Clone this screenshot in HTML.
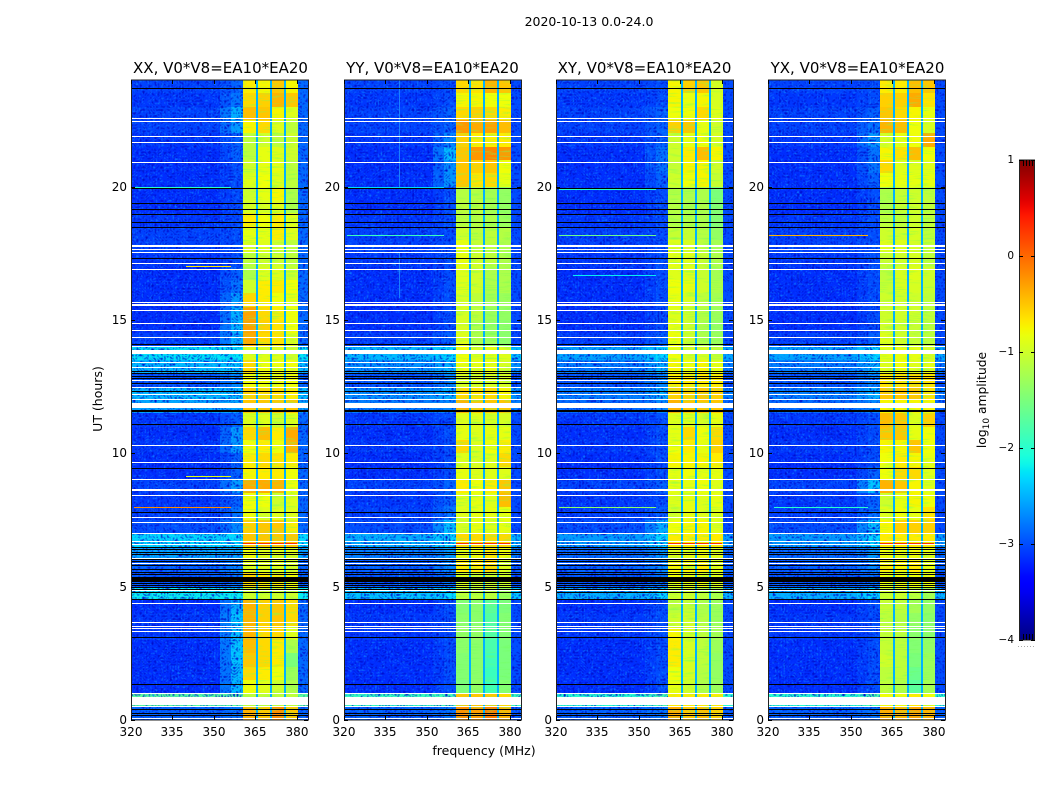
<!DOCTYPE html>
<html lang="en">
<head>
<meta charset="utf-8">
<title>2020-10-13 amplitude waterfall</title>
<style>
html,body{margin:0;padding:0;background:#fff;}
svg{display:block;}
text{font-family:"DejaVu Sans","Liberation Sans",sans-serif;fill:#000;}
</style>
</head>
<body>
<svg id="chart" xmlns="http://www.w3.org/2000/svg" width="1050" height="800" viewBox="0 0 1050 800">
  <defs>
    <linearGradient id="jetGradient" x1="0" y1="1" x2="0" y2="0"></linearGradient>
    <filter id="speckleLight" x="0" y="0" width="1" height="1" color-interpolation-filters="sRGB">
      <feTurbulence type="turbulence" baseFrequency="0.36" numOctaves="1" seed="4"/>
      <feColorMatrix type="matrix" values="0 0 0 0 0.05  0 0 0 0 0.5  0 0 0 0 1  1.8 0 0 0 -0.3"/>
    </filter>
    <filter id="speckleDark" x="0" y="0" width="1" height="1" color-interpolation-filters="sRGB">
      <feTurbulence type="turbulence" baseFrequency="0.33" numOctaves="1" seed="11"/>
      <feColorMatrix type="matrix" values="0 0 0 0 0  0 0 0 0 0.05  0 0 0 0 0.8  2 0 0 0 -0.25"/>
    </filter>
    <filter id="bandTexture" x="0" y="0" width="1" height="1" color-interpolation-filters="sRGB">
      <feTurbulence type="turbulence" baseFrequency="0.06 0.45" numOctaves="1" seed="7"/>
      <feColorMatrix type="matrix" values="0 0 0 0 0.45  0 0 0 0 1  0 0 0 0 0.35  1.2 0 0 0 -0.2"/>
    </filter>
  </defs>
  <text x="589" y="26" font-size="12.5" text-anchor="middle">2020-10-13 0.0-24.0</text>
  <text x="484" y="755" font-size="12.5" text-anchor="middle">frequency (MHz)</text>
  <text x="0" y="0" font-size="12.5" text-anchor="middle" transform="translate(102,399) rotate(-90)">UT (hours)</text>
  <text x="0" y="0" font-size="12.3" text-anchor="middle" transform="translate(986,400) rotate(-90)">log<tspan font-size="9" dy="3">10</tspan><tspan dy="-3"> amplitude</tspan></text>
  <g id="panels"></g>
  <g id="colorbar"></g>
</svg>
<script>
// Tick labels
const xTicks = [320, 335, 350, 365, 380];
const yTicks = [0, 5, 10, 15, 20];
const colorTicks = [1, 0, -1, -2, -3, -4];

// Frequency layout in MHz
const bandStarts = [360.5, 365.5, 370.6, 375.6];
const bandEnds = [365.1, 370.2, 375.2, 380];
const gapFreqs = [365.1, 370.2, 375.2];

// Background log10 amplitude per half-hour row, 0h upward (48 rows)
const backgroundLevels = [
  -2.9,-2.0,-3.15,-3.15,-3.15,-3.15,-3.1,-3.1,-3.15,-2.5,
  -2.95,-2.9,-2.85,-2.6,-3.0,-3.05,-3.1,-3.05,-3.15,-3.15,
  -3.1,-3.15,-3.1,-2.85,-2.75,-2.95,-2.75,-2.55,-3.05,-3.15,
  -3.15,-3.15,-3.15,-3.15,-3.1,-3.05,-3.05,-3.1,-3.15,-3.15,
  -3.15,-3.15,-3.15,-3.1,-3.05,-3.05,-3.1,-3.05
];

// Extra brightness of the disturbed rows in each panel
const panelGlow = [0.3, 0.1, 0, 0];

// 356-360.5 MHz shoulder per half-hour row
const xxShoulder = [-2.8,-1.8,-2.45,-2.45,-2.4,-2.4,-2.4,-2.4,-2.5,-2.3,-2.8,-2.7,-2.6,-2.3,-2.7,-2.8,-2.9,-2.6,-2.9,-2.9,-2.6,-2.6,-2.9,-2.6,-2.5,-2.7,-2.4,-2.3,-2.5,-2.45,-2.5,-2.6,-2.8,-2.9,-3,-3,-3,-3,-3,-3,-3,-3,-2.9,-2.9,-2.6,-2.5,-2.8,-2.9];
const yyShoulder = [-2.8,-1.8,-3,-3,-3,-3,-3,-3,-3,-2.3,-2.8,-2.7,-2.6,-2.3,-2.4,-2.8,-2.9,-2.9,-3,-3,-3,-3,-3,-2.7,-2.5,-2.7,-2.5,-2.3,-2.9,-3,-3,-3,-3,-3,-3,-3,-3,-3,-3,-3,-2.65,-2.65,-2.45,-2.7,-2.9,-2.9,-3,-3];
const xyShoulder = [-2.8,-1.8,-3,-3,-3,-3,-3,-3,-3,-2.3,-2.8,-2.7,-2.6,-2.3,-2.5,-2.9,-3,-2.9,-3,-3,-3,-3,-3,-2.7,-2.5,-2.7,-2.5,-2.3,-2.9,-3,-3,-3,-3,-3,-3,-3,-3,-3,-3,-3,-2.9,-2.8,-2.8,-2.9,-2.9,-2.9,-3,-3];
const yxShoulder = [-2.8,-1.8,-3,-3,-3,-3,-3,-3,-3,-2.3,-2.8,-2.7,-2.6,-2.3,-2.4,-2.8,-2.9,-2.4,-2.9,-3,-3,-3,-3,-2.7,-2.5,-2.7,-2.5,-2.3,-2.9,-3,-3,-3,-3,-3,-3,-3,-3,-3,-3,-3,-2.9,-2.8,-2.8,-2.6,-2.8,-2.9,-3,-3];

// Sub-band log10 amplitude per half-hour row, 0h upward
const xxBands = [
[-.4,-.5,-.2,-.5],[-1.1,-1.1,-1.1,-1.1],[-.8,-.9,-1,-1.2],[-.6,-.7,-.8,-1.3],[-.5,-.6,-.7,-1.5],[-.45,-.6,-.7,-1.2],[-.4,-.6,-.6,-.9],[-.4,-.55,-.5,-.6],
[-.4,-.55,-.5,-.6],[-1,-1,-1,-1],[-.6,-.7,-.7,-.8],[-.9,-.9,-.9,-.95],[-.8,-.9,-.9,-.9],[-.5,-.5,-.5,-.5],[-.55,-.5,-.5,-.7],[-.8,-.9,-.9,-.9],
[-.8,-.8,-1,-.9],[-.35,-.35,-.4,-.8],[-.75,-.7,-.7,-.8],[-.7,-.6,-.65,-.7],[-.8,-.7,-.8,-.4],[-.6,-.45,-.7,-.35],[-.9,-.9,-1,-.9],[-.5,-.5,-.5,-.5],
[-.55,-.6,-.6,-.7],[-.8,-.8,-.8,-.8],[-.6,-.8,-.8,-.8],[-.9,-.9,-.9,-1],[-.35,-.6,-.65,-.9],[-.3,-.55,-.65,-.8],[-.3,-.6,-.7,-.8],[-.6,-.7,-.8,-.85],
[-1,-.7,-.7,-.8],[-1.2,-.9,-.9,-1],[-1.1,-1,-1,-1.1],[-.9,-.9,-1,-1.1],[-.85,-.85,-.7,-.9],[-.7,-.8,-.7,-.9],[-.95,-.95,-.9,-1.2],[-1,-.85,-.75,-1.2],
[-.9,-.8,-.9,-1.1],[-1,-.85,-.85,-1.1],[-1.1,-.85,-.9,-1],[-1.1,-1,-1.1,-1],[-.75,-.6,-.9,-1.1],[-.45,-.5,-.75,-.9],[-.6,-.55,-.4,-.5],[-.7,-.75,-.5,-.75]
];
const yyBands = [
[-.2,-.3,-.1,-.4],[-.5,-.5,-.5,-.6],[-1.5,-1.35,-1.9,-1.45],[-1.45,-1.4,-1.9,-1.5],[-1.45,-1.4,-1.85,-1.5],[-1.4,-1.4,-1.8,-1.5],[-1.35,-1.35,-1.75,-1.45],[-1.4,-1.4,-1.75,-1.45],
[-1.45,-1.4,-1.7,-1.5],[-1.1,-1.1,-1.1,-1.3],[-.9,-1,-1,-1],[-.7,-.7,-.6,-.9],[-.8,-.8,-.7,-.8],[-.6,-.6,-.6,-.6],[-.95,-.85,-.9,-.85],[-.9,-.85,-.85,-.8],
[-.9,-.85,-.9,-.45],[-.7,-.8,-.7,-.5],[-.85,-.9,-.9,-.9],[-.9,-.95,-.9,-.6],[-.6,-.9,-.8,-.7],[-.85,-.9,-.85,-.85],[-.9,-.9,-.95,-.95],[-.4,-.5,-.5,-.5],
[-.6,-.65,-.6,-.75],[-.95,-.95,-.95,-.95],[-.8,-.85,-.85,-.95],[-.8,-.9,-.85,-.9],[-.9,-1.2,-1.3,-1.4],[-.95,-1.2,-1.35,-1.4],[-.95,-1.1,-1.3,-1.35],[-.95,-1.1,-1.25,-1.3],
[-.9,-1,-1.2,-1.2],[-.9,-1,-1.2,-1.2],[-.85,-1,-1.1,-1.2],[-.85,-1.05,-1.1,-1.2],[-1,-1.1,-1.1,-1.15],[-1.1,-1.15,-1.2,-1.3],[-1.1,-1.1,-1.25,-1.35],[-1.15,-1.15,-1.25,-1.35],
[-.5,-.65,-.6,-.85],[-.5,-.55,-.5,-.8],[-.5,-.25,-.15,-.25],[-.55,-.7,-.7,-.7],[-.25,-.35,-.3,-.45],[-.6,-.55,-.6,-.7],[-.75,-.75,-.8,-.8],[-.6,-.65,-.4,-.5]
];
const xyBands = [
[-.35,-.5,-.45,-.55],[-.7,-.7,-.7,-.7],[-.85,-1,-1.2,-1.3],[-.8,-.95,-1.15,-1.35],[-.7,-.95,-1.1,-1.35],[-.7,-.95,-1.1,-1.3],[-.75,-.95,-1.1,-1.25],[-1,-1,-1.15,-1.3],
[-1.1,-1.05,-1.2,-1.3],[-1,-1,-1.1,-1.2],[-.8,-.85,-.8,-.9],[-.75,-.75,-.7,-.85],[-.9,-.85,-.8,-.9],[-.7,-.7,-.7,-.7],[-.8,-.75,-.75,-.9],[-.95,-.85,-.9,-.9],
[-.9,-.85,-.9,-.85],[-.85,-.85,-.8,-.9],[-.85,-.8,-.85,-.85],[-.75,-.75,-.75,-.7],[-.8,-.7,-.85,-.55],[-.85,-.6,-.8,-.6],[-.9,-.9,-.95,-.85],[-.4,-.5,-.5,-.5],
[-.55,-.55,-.5,-.55],[-.7,-.7,-.7,-.7],[-.75,-.8,-.75,-.85],[-.8,-.95,-.95,-1.05],[-.8,-1,-1.2,-1.3],[-.85,-1,-1.2,-1.35],[-.9,-1,-1.15,-1.3],[-.85,-.95,-1.1,-1.25],
[-.8,-.85,-1,-1.2],[-.9,-.9,-1.05,-1.25],[-.85,-.9,-1.05,-1.2],[-.9,-.95,-1.1,-1.25],[-1.05,-1.05,-1.15,-1.35],[-1.15,-1.15,-1.2,-1.45],[-1.15,-1.2,-1.2,-1.45],[-1.15,-1.2,-1.2,-1.5],
[-1,-.8,-.75,-1.05],[-1.05,-.75,-.75,-1],[-1,-.7,-.45,-.75],[-1,-.85,-.8,-.95],[-.55,-.5,-.85,-1],[-.8,-.8,-.6,-.9],[-.75,-.85,-.75,-.95],[-.75,-.55,-.5,-.95]
];
const yxBands = [
[-.35,-.4,-.3,-.4],[-.8,-.8,-.7,-.8],[-1.1,-1.2,-1.7,-1.25],[-1.1,-1.1,-1.6,-1.3],[-1,-1.1,-1.5,-1.3],[-1.05,-1.1,-1.45,-1.35],[-1.05,-1.1,-1.4,-1.4],[-1.1,-1.15,-1.35,-1.4],
[-1.05,-1.1,-1.25,-1.35],[-1,-1,-1.1,-1.25],[-.8,-.8,-.8,-.8],[-.7,-.75,-.7,-.85],[-.8,-.8,-.8,-.85],[-.7,-.7,-.7,-.7],[-.75,-.55,-.55,-.55],[-.9,-.8,-.85,-.65],
[-1,-.85,-.75,-.8],[-.4,-.5,-.75,-.9],[-.8,-.6,-.6,-.9],[-.8,-.7,-.75,-.85],[-.75,-.75,-.5,-.8],[-.5,-.5,-.85,-.8],[-.45,-.5,-.9,-.55],[-.75,-.75,-.75,-.75],
[-.5,-.5,-.5,-.65],[-.65,-.65,-.6,-.65],[-.9,-.8,-.9,-.85],[-.85,-.85,-.85,-.95],[-.9,-1,-1.05,-1.1],[-1,-1,-1.05,-1.1],[-1,-1,-1,-1.1],[-1,-1,-1,-1.1],
[-1.05,-.95,-.95,-1.05],[-1.1,-.95,-.9,-1],[-1.05,-1,-.95,-1.1],[-.9,-.9,-.95,-1.05],[-1,-1,-.95,-1.1],[-1.1,-1.1,-1,-1.1],[-1.2,-1.05,-1,-1.1],[-1.2,-1.05,-1,-1.1],
[-.8,-.85,-.85,-.85],[-.6,-.9,-.9,-.9],[-.75,-.65,-.45,-.8],[-.95,-.85,-.8,-.35],[-.4,-.45,-.8,-.95],[-.5,-.6,-.75,-.85],[-.55,-.55,-.35,-.65],[-.7,-.7,-.45,-.5]
];

// Outer-edge level above 380 MHz for each panel
const edgeLevels = [-2.85, -3.0, -3.0, -3.0];
const gapLevel = -2.5;
const strongRowHour = 6.65;
const strongRowLevel = 0.3;

// Narrow-band interference rows per panel: hour, start MHz, level
const xxRfiHours = [7.98, 17.03, 19.99, 9.15];
const xxRfiStarts = [321, 340, 321, 340];
const xxRfiLevels = [-0.2, -0.7, -2.0, -0.9];
const yyRfiHours = [18.17, 19.98];
const yyRfiStarts = [321, 321];
const yyRfiLevels = [-1.9, -2.3];
const xyRfiHours = [7.98, 18.17, 19.9, 16.7];
const xyRfiStarts = [321, 321, 321, 326];
const xyRfiLevels = [-1.4, -1.6, -2.0, -2.2];
const yxRfiHours = [18.17, 7.98];
const yxRfiStarts = [320, 322];
const yxRfiLevels = [-0.4, -2.0];
const rfiStopFreq = 356;

// Interference channels in YY (MHz, hour from, hour to)
const yyChannelFreqs = [340, 340, 340];
const yyChannelFrom = [20, 15.8, 5];
const yyChannelTo = [24, 17.5, 5.5];

// Flagged integrations in UT hours
const whiteHours = [.06,.51,1.0,3.35,3.44,3.54,3.66,4.38,4.88,5.88,6.09,6.59,6.72,7.0,7.41,7.61,8.43,8.64,9.05,9.66,10.3,12.04,12.22,12.5,12.75,13.24,13.44,14.04,14.37,14.61,14.87,15.36,15.56,15.68,16.9,17.12,17.54,17.66,17.78,20.92,21.67,21.89,22.47,22.56];
const whiteBandFrom = [.56, 11.7, 13.72, 8.6, 15.52, 17.75];
const whiteBandTo = [.86, 11.9, 13.86, 8.68, 15.6, 17.81];
const blackHours = [.18,.27,.42,1.34,3.1,4.53,4.8,4.93,5,5.06,5.13,5.47,5.55,5.66,5.81,5.96,6.04,6.22,6.3,6.41,6.5,7.79,9.44,11.09,12.35,12.65,12.83,12.9,13.01,13.09,14.1,17.34,18.49,18.66,18.96,19.15,19.37,19.96,23.69];
const blackBandFrom = [5.19, 11.54];
const blackBandTo = [5.37, 11.62];

const panelLefts = [131, 344, 556, 768];
const panelTitleOffsets = [89.5, 88.5, 88.5, 89.5];
const panelTitles = ['XX, V0*V8=EA10*EA20', 'YY, V0*V8=EA10*EA20', 'XY, V0*V8=EA10*EA20', 'YX, V0*V8=EA10*EA20'];
const panelBands = [xxBands, yyBands, xyBands, yxBands];
const panelShoulders = [xxShoulder, yyShoulder, xyShoulder, yxShoulder];
const panelRfiHours = [xxRfiHours, yyRfiHours, xyRfiHours, yxRfiHours];
const panelRfiStarts = [xxRfiStarts, yyRfiStarts, xyRfiStarts, yxRfiStarts];
const panelRfiLevels = [xxRfiLevels, yyRfiLevels, xyRfiLevels, yxRfiLevels];
const panelNames = ['xx', 'yy', 'xy', 'yx'];

const NS = 'http://www.w3.org/2000/svg';
const plotTop = 80, plotBottom = 720, plotWidth = 177;
const freqMin = 320, freqMax = 384, hourMax = 24;
const rowHours = 0.5;

function yScale(h) { return plotBottom - (h / hourMax) * (plotBottom - plotTop); }
function xScale(left, f) { return left + (f - freqMin) / (freqMax - freqMin) * plotWidth; }
function clamp01(v) { return Math.max(0, Math.min(1, v)); }
function jet(t) {
  const r = t < .35 ? 0 : t < .66 ? (t - .35) / .31 : t < .89 ? 1 : 1 - (t - .89) / .11 * .5;
  const g = t < .125 ? 0 : t < .375 ? (t - .125) / .25 : t < .64 ? 1 : t < .91 ? 1 - (t - .64) / .27 : 0;
  const b = t < .11 ? .5 + t / .11 * .5 : t < .34 ? 1 : t < .65 ? 1 - (t - .34) / .31 : 0;
  return 'rgb(' + Math.round(clamp01(r) * 255) + ',' + Math.round(clamp01(g) * 255) + ',' + Math.round(clamp01(b) * 255) + ')';
}
function colorOf(level) { return jet(clamp01((level + 4) / 5)); }
function rectEl(parent, x, y, w, h, fill) {
  const el = document.createElementNS(NS, 'rect');
  el.setAttribute('x', x);
  el.setAttribute('y', y);
  el.setAttribute('width', w);
  el.setAttribute('height', h);
  el.setAttribute('fill', fill);
  el.setAttribute('shape-rendering', 'crispEdges');
  parent.appendChild(el);
  return el;
}
function textEl(parent, x, y, size, anchor, str) {
  const el = document.createElementNS(NS, 'text');
  el.setAttribute('x', x);
  el.setAttribute('y', y);
  el.setAttribute('font-size', size);
  el.setAttribute('text-anchor', anchor);
  el.textContent = str;
  parent.appendChild(el);
  return el;
}
function cell(parent, left, f0, f1, h0, h1, level) {
  const x0 = Math.round(xScale(left, f0)), x1 = Math.round(xScale(left, f1));
  const y0 = Math.round(yScale(h1)), y1 = Math.round(yScale(h0));
  const el = rectEl(parent, x0, y0, Math.max(1, x1 - x0), Math.max(1, y1 - y0), colorOf(level));
  
  
  return el;
}

const panelsRoot = document.getElementById('panels');
panelLefts.forEach(function (left, p) {
  const g = document.createElementNS(NS, 'g');
  
  
  panelsRoot.appendChild(g);

  backgroundLevels.forEach(function (baseLevel, r) {
    const h0 = r * rowHours, h1 = h0 + rowHours;
    const bg = baseLevel > -2.9 ? baseLevel + panelGlow[p] : baseLevel;
    const shoulder = Math.max(panelShoulders[p][r], bg);
    cell(g, left, freqMin, 352, h0, h1, bg);
    cell(g, left, 352, 356, h0, h1, (bg + shoulder) / 2);
    cell(g, left, 356, bandStarts[0], h0, h1, shoulder);
    cell(g, left, bandEnds[3], freqMax, h0, h1, Math.max(edgeLevels[p], bg));
  });

  const leftWidth = Math.round(xScale(left, bandStarts[0])) - left;
  const speckA = rectEl(g, left, plotTop, leftWidth, plotBottom - plotTop, '#fff');
  speckA.setAttribute('filter', 'url(#speckleLight)');
  
  
  const speckB = rectEl(g, left, plotTop, leftWidth, plotBottom - plotTop, '#fff');
  speckB.setAttribute('filter', 'url(#speckleDark)');
  
  
  const edgeX = Math.round(xScale(left, bandEnds[3]));
  const speckC = rectEl(g, edgeX, plotTop, left + plotWidth - edgeX, plotBottom - plotTop, '#fff');
  speckC.setAttribute('filter', 'url(#speckleDark)');
  
  

  panelBands[p].forEach(function (row, r) {
    const h0 = r * rowHours, h1 = h0 + rowHours;
    row.forEach(function (level, b) {
      cell(g, left, bandStarts[b], bandEnds[b] + .4, h0, h1, level);
    });
  });

  const bandX = Math.round(xScale(left, bandStarts[0]));
  const bandTex = rectEl(g, bandX, plotTop, edgeX - bandX, plotBottom - plotTop, '#fff');
  bandTex.setAttribute('filter', 'url(#bandTexture)');
  
  

  gapFreqs.forEach(function (f) {
    const gapEl = rectEl(g, Math.round(xScale(left, f)), plotTop, 2, plotBottom - plotTop, colorOf(gapLevel));
    
    
  });

  bandStarts.forEach(function (f, b) {
    const strong = rectEl(g, Math.round(xScale(left, f)), Math.round(yScale(strongRowHour)), Math.round(xScale(left, bandEnds[b])) - Math.round(xScale(left, f)), 2, colorOf(strongRowLevel));
    
    
  });

  panelRfiHours[p].forEach(function (h, i) {
    const x0 = Math.round(xScale(left, panelRfiStarts[p][i])), x1 = Math.round(xScale(left, rfiStopFreq));
    const rfi = rectEl(g, x0, Math.round(yScale(h)), x1 - x0, 1, colorOf(panelRfiLevels[p][i]));
    
    
  });

  if (p === 1) {
    yyChannelFreqs.forEach(function (f, i) {
      const ch = rectEl(g, Math.round(xScale(left, f)), Math.round(yScale(yyChannelTo[i])), 1, Math.round(yScale(yyChannelFrom[i]) - yScale(yyChannelTo[i])), '#1a80ff');
      
      
    });
  }

  whiteBandFrom.forEach(function (h, i) {
    const y0 = Math.round(yScale(whiteBandTo[i]));
    const band = rectEl(g, left, y0, plotWidth, Math.max(2, Math.round(yScale(h)) - y0), '#fff');
    
    
  });
  whiteHours.forEach(function (h) {
    const line = rectEl(g, left, Math.round(yScale(h)), plotWidth, 1, '#fff');
    
    
  });
  blackBandFrom.forEach(function (h, i) {
    const y0 = Math.round(yScale(blackBandTo[i]));
    const band = rectEl(g, left, y0, plotWidth, Math.max(2, Math.round(yScale(h)) - y0), '#000');
    
    
  });
  blackHours.forEach(function (h) {
    const line = rectEl(g, left, Math.round(yScale(h)), plotWidth, 1, '#000');
    
    
  });

  const frame = document.createElementNS(NS, 'rect');
  frame.setAttribute('x', left + .5);
  frame.setAttribute('y', plotTop);
  frame.setAttribute('width', plotWidth);
  frame.setAttribute('height', plotBottom - plotTop);
  frame.setAttribute('fill', 'none');
  frame.setAttribute('stroke', '#222');
  frame.setAttribute('stroke-width', '1');
  
  
  g.appendChild(frame);

  const title = textEl(g, left + panelTitleOffsets[p], 73, 15, 'middle', panelTitles[p]);
  
  

  xTicks.forEach(function (t) {
    const x = Math.round(xScale(left, t));
    const tb = rectEl(g, x, plotBottom - 4, 1, 4, '#000');
    
    
    const tt = rectEl(g, x, plotTop, 1, 4, '#000');
    
    
    const lab = textEl(g, x, 736, 12, 'middle', String(t));
    
    
  });
  yTicks.forEach(function (t) {
    const y = Math.round(yScale(t));
    const tl = rectEl(g, left, y, 4, 1, '#000');
    
    
    const tr = rectEl(g, left + plotWidth - 4, y, 4, 1, '#000');
    
    
    const lab = textEl(g, left - 4, y + 4, 12, 'end', String(t));
    
    
  });
});

// Colorbar
const cbX = 1019, cbW = 16, cbTop = 160, cbBottom = 640;
function cbY(v) { return cbBottom - (v + 4) / 5 * (cbBottom - cbTop); }
const grad = document.getElementById('jetGradient');
for (let i = 0; i <= 60; i++) {
  const stop = document.createElementNS(NS, 'stop');
  stop.setAttribute('offset', (i / 60).toFixed(4));
  stop.setAttribute('stop-color', jet(i / 60));
  grad.appendChild(stop);
}
const cb = document.getElementById('colorbar');
const cbFill = rectEl(cb, cbX, cbTop, cbW, cbBottom - cbTop, 'url(#jetGradient)');


const cbFrame = document.createElementNS(NS, 'rect');
cbFrame.setAttribute('x', cbX + .5);
cbFrame.setAttribute('y', cbTop);
cbFrame.setAttribute('width', cbW - 1);
cbFrame.setAttribute('height', cbBottom - cbTop);
cbFrame.setAttribute('fill', 'none');
cbFrame.setAttribute('stroke', '#222');


cb.appendChild(cbFrame);
colorTicks.forEach(function (t) {
  const y = Math.round(cbY(t));
  const a = rectEl(cb, cbX, y, 4, 1, '#000');
  
  
  const b = rectEl(cb, cbX + cbW - 4, y, 4, 1, '#000');
  
  
  const lab = textEl(cb, 1014, y + 3, 10.5, 'end', String(t).replace('-', '\u2212'));
  
  
});
[1023, 1026, 1029, 1032].forEach(function (x) {
  const up = rectEl(cb, x, cbTop, 1, 6, '#000');
  
  
  const dn = rectEl(cb, x, cbBottom - 6, 1, 6, '#000');
  
  
});
[1018, 1021, 1024, 1027, 1030, 1033].forEach(function (x) {
  const d = rectEl(cb, x, 646, 1, 1, '#aaa');
  
  
});
</script>
</body>
</html>
